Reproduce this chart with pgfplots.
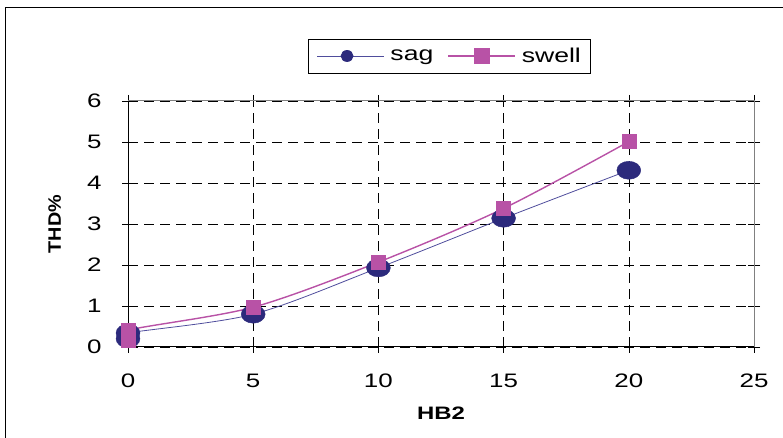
\documentclass[border=0pt]{standalone}
\usepackage{fontspec}
\setmainfont[FakeStretch=1.33]{Liberation Sans}
\newfontfamily\ylabfont[FakeStretch=1.1]{Liberation Sans}
\usepackage{pgfplots}
\pgfplotsset{compat=1.18}
\definecolor{sagc}{HTML}{2C2A7C}
\definecolor{sagl}{HTML}{4F4D9C}
\definecolor{swc}{HTML}{B852A6}
\begin{document}
\begin{tikzpicture}[x=1pt,y=1pt]
\useasboundingbox (0,0) rectangle (783,438);
\draw[black,line width=1pt] (5,0) -- (5,430) -- (790,430);
\begin{axis}[
  at={(128pt,91pt)}, anchor=south west,
  scale only axis, width=626pt, height=246pt,
  xmin=0, xmax=25, ymin=0, ymax=6,
  xtick={0,5,10,15,20,25}, ytick={0,1,2,3,4,5,6},
  grid=major,
  major grid style={black, dash pattern=on 10pt off 6pt, line width=0.6pt},
  axis line style={draw=gray, line width=1pt},
  tick align=center, major tick length=12pt,
  tick style={black, line width=0.6pt},
  tick label style={font=\fontsize{19.5}{22}\selectfont},
  /pgf/number format/assume math mode=true,
  xticklabel style={anchor=center, yshift=-28pt},
  yticklabel style={anchor=east, xshift=-17pt},
  xlabel={\textbf{HB2}}, ylabel={\ylabfont\bfseries THD\%},
  xlabel style={font=\fontsize{18}{20}\selectfont, at={(axis description cs:0.5,-0.268)}, anchor=center},
  ylabel style={font=\fontsize{18}{20}\selectfont, at={(axis description cs:-0.117,0.5)}, anchor=center},
  legend columns=2,
  legend style={at={(0.514,1.183)}, anchor=center, draw=black, line width=0.8pt,
    font=\fontsize{20}{22}\selectfont, inner xsep=8pt, inner ysep=7pt,
    /tikz/every odd column/.append style={column sep=4pt},
    /tikz/every even column/.append style={column sep=12pt}},
  clip=false,
]
\addplot[sagl, line width=0.8pt, smooth, mark=*,
  mark options={draw=sagc, fill=sagc, xscale=1.33, line width=0.4pt}, mark size=9pt,
  legend image code/.code={
    \draw[sagl, line width=0.8pt] (0pt,0pt) -- (67pt,0pt);
    \fill[sagc] (30pt,0pt) ellipse (6pt and 5.5pt);}]
  coordinates {(0,0.2) (0,0.34) (5,0.80) (10,1.93) (15,3.14) (20,4.31)};
\addlegendentry{sag}
\addplot[swc, line width=1.4pt, smooth, mark=square*,
  mark options={draw=swc, fill=swc, line width=0.4pt}, mark size=7pt,
  legend image code/.code={
    \draw[swc, line width=1.4pt] (0pt,0pt) -- (67pt,0pt);
    \fill[swc] (27pt,-7pt) rectangle (41pt,7pt);}]
  coordinates {(0,0.17) (0,0.41) (5,0.97) (10,2.07) (15,3.38) (20,5.01)};
\addlegendentry{swell}
\draw[black, line width=1pt] (axis cs:0,6) -- (axis cs:0,0) -- (axis cs:25,0);
\end{axis}
\end{tikzpicture}
\end{document}
